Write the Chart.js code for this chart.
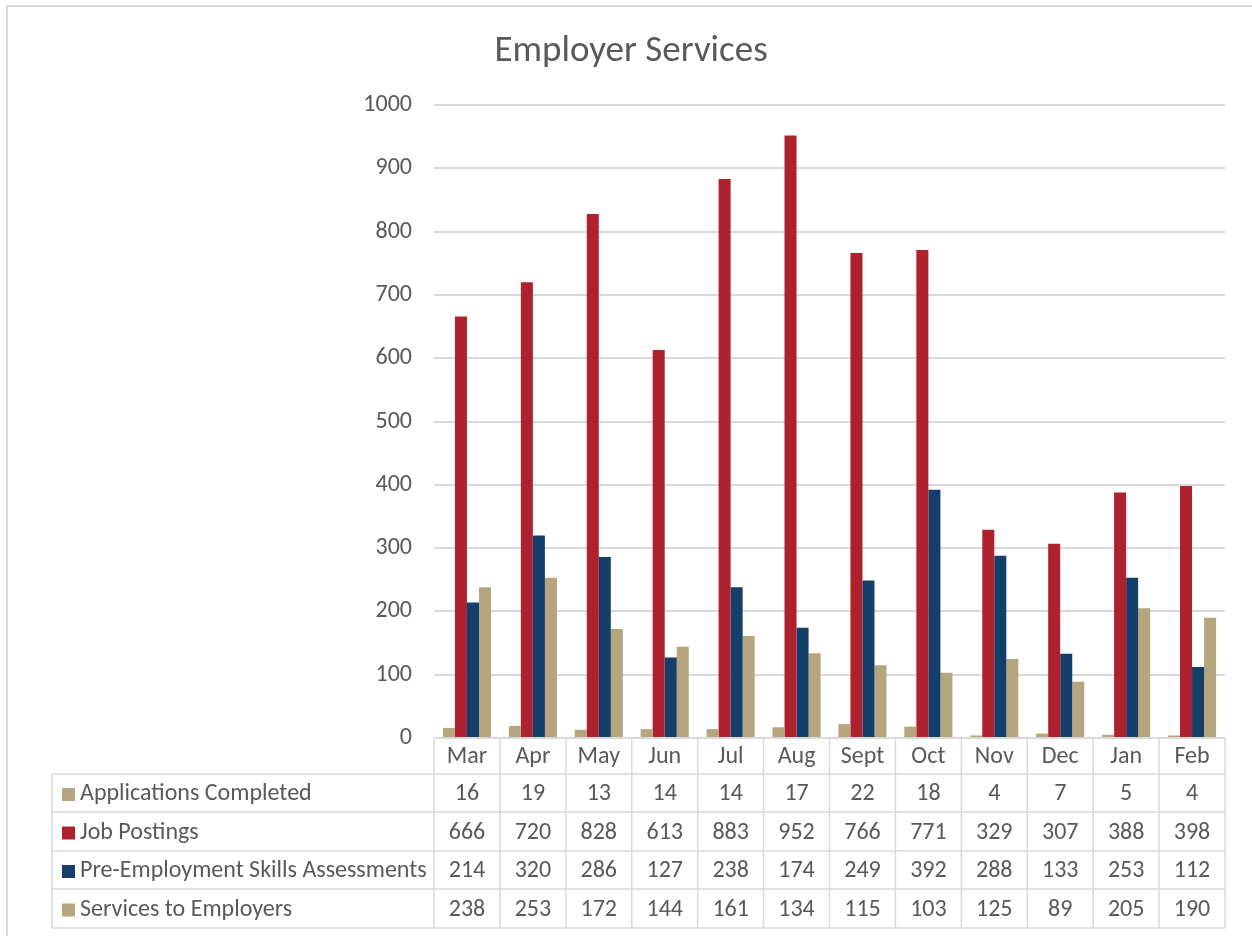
<!DOCTYPE html>
<html>
<head>
<meta charset="utf-8">
<script src="https://cdn.jsdelivr.net/npm/chart.js@4"></script>
<style>
  body { margin: 0; background: #ffffff; }
  canvas { display: block; }
</style>
</head>
<body>
<canvas id="employerChart" width="1252" height="936"></canvas>
<script>
const months = ["Mar", "Apr", "May", "Jun", "Jul", "Aug", "Sept", "Oct", "Nov", "Dec", "Jan", "Feb"];
const applicationsCompleted = [16, 19, 13, 14, 14, 17, 22, 18, 4, 7, 5, 4];
const jobPostings = [666, 720, 828, 613, 883, 952, 766, 771, 329, 307, 388, 398];
const skillsAssessments = [214, 320, 286, 127, 238, 174, 249, 392, 288, 133, 253, 112];
const servicesToEmployers = [238, 253, 172, 144, 161, 134, 115, 103, 125, 89, 205, 190];
const yTicks = [0, 100, 200, 300, 400, 500, 600, 700, 800, 900, 1000];

const tan = "#b5a67f";
const red = "#ae2230";
const navy = "#143f6b";
const textColor = "#595959";
const lineColor = "#d9d9d9";
const fontFamily = "Calibri, Carlito, 'Open Sans', sans-serif";

const tableTop = 738;
const rowEdges = [738, 774, 812, 851, 889, 928];
const tableLeft = 52;

// draws the title, outer frame and data table under the plot
const dataTablePlugin = {
  id: "dataTable",
  afterDraw(chart) {
    const ctx = chart.ctx;
    const xScale = chart.scales.x;
    const area = chart.chartArea;
    const step = (area.right - area.left) / months.length;

    ctx.save();

    // outer frame (top and left edges only are visible)
    ctx.strokeStyle = lineColor;
    ctx.lineWidth = 2;
    ctx.beginPath();
    ctx.moveTo(7, 936);
    ctx.lineTo(7, 6);
    ctx.lineTo(1252, 6);
    ctx.stroke();

    // title
    ctx.fillStyle = textColor;
    ctx.font = "37px " + fontFamily;
    ctx.textAlign = "center";
    ctx.textBaseline = "middle";
    ctx.fillText("Employer Services", 631, 52);

    // table grid
    ctx.lineWidth = 1.5;
    ctx.strokeStyle = lineColor;
    ctx.beginPath();
    ctx.moveTo(area.left, tableTop);
    ctx.lineTo(area.right, tableTop);
    for (let i = 1; i < rowEdges.length; i++) {
      ctx.moveTo(tableLeft, rowEdges[i]);
      ctx.lineTo(area.right, rowEdges[i]);
    }
    ctx.moveTo(tableLeft, rowEdges[1]);
    ctx.lineTo(tableLeft, rowEdges[5]);
    for (let i = 0; i <= months.length; i++) {
      const x = area.left + step * i;
      ctx.moveTo(x, tableTop);
      ctx.lineTo(x, rowEdges[5]);
    }
    ctx.stroke();

    const rows = [
      { label: "Applications Completed", color: tan, values: applicationsCompleted },
      { label: "Job Postings", color: red, values: jobPostings },
      { label: "Pre-Employment Skills Assessments", color: navy, values: skillsAssessments },
      { label: "Services to Employers", color: tan, values: servicesToEmployers }
    ];

    ctx.font = "24px " + fontFamily;
    ctx.textBaseline = "middle";
    ctx.textAlign = "center";
    ctx.fillStyle = textColor;
    months.forEach((month, i) => {
      ctx.fillText(month, xScale.getPixelForValue(i), (rowEdges[0] + rowEdges[1]) / 2 + 1);
    });

    rows.forEach((row, r) => {
      const yMid = (rowEdges[r + 1] + rowEdges[r + 2]) / 2 + 1;
      ctx.fillStyle = row.color;
      ctx.fillRect(62, yMid - 6, 13, 13);
      ctx.fillStyle = textColor;
      ctx.textAlign = "left";
      ctx.fillText(row.label, 80, yMid);
      ctx.textAlign = "center";
      row.values.forEach((value, i) => {
        ctx.fillText(String(value), xScale.getPixelForValue(i), yMid);
      });
    });

    ctx.restore();
  }
};

const ctx = document.getElementById("employerChart").getContext("2d");

new Chart(ctx, {
  type: "bar",
  data: {
    labels: months,
    datasets: [
      { label: "Applications Completed", data: applicationsCompleted, backgroundColor: tan },
      { label: "Job Postings", data: jobPostings, backgroundColor: red },
      { label: "Pre-Employment Skills Assessments", data: skillsAssessments, backgroundColor: navy },
      { label: "Services to Employers", data: servicesToEmployers, backgroundColor: tan }
    ]
  },
  options: {
    responsive: false,
    animation: false,
    layout: {
      padding: { left: 320, right: 27, top: 105, bottom: 198 }
    },
    datasets: {
      bar: {
        categoryPercentage: 0.73,
        barPercentage: 1.0
      }
    },
    plugins: {
      legend: { display: false },
      title: { display: false },
      tooltip: { enabled: false }
    },
    scales: {
      x: {
        display: false
      },
      y: {
        min: 0,
        max: 1000,
        afterFit(scale) {
          scale.width = 114;
        },
        afterBuildTicks(scale) {
          scale.ticks = yTicks.map((v) => ({ value: v }));
        },
        border: { display: false },
        grid: {
          color: lineColor,
          lineWidth: 2,
          drawTicks: false
        },
        ticks: {
          color: textColor,
          padding: 22,
          font: { size: 24, family: fontFamily },
          callback: (value) => String(value)
        }
      }
    }
  },
  plugins: [dataTablePlugin]
});
</script>
</body>
</html>
